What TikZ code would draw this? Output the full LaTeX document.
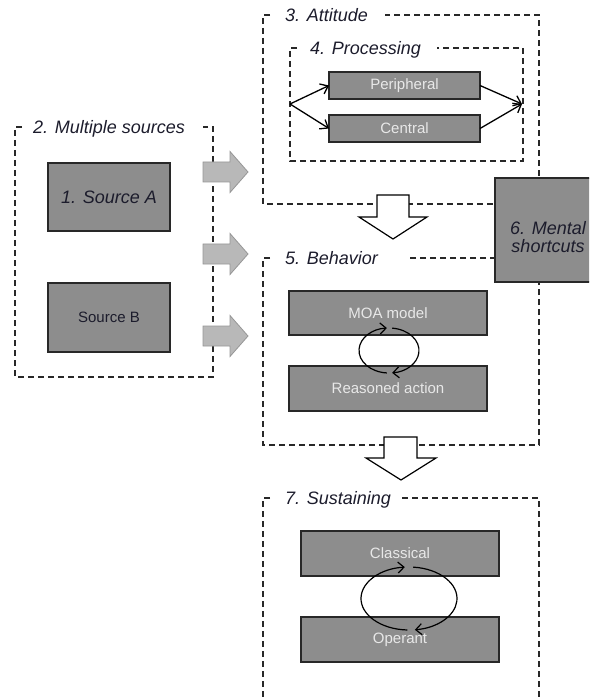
\documentclass[tikz,border=0pt]{standalone}
\usepackage{fontspec}
\setmainfont{Liberation Sans}
\usetikzlibrary{arrows.meta}
\definecolor{boxgray}{RGB}{141,141,141}
\definecolor{linedark}{RGB}{40,40,40}
\definecolor{inktext}{RGB}{28,28,44}
\definecolor{lighttext}{RGB}{232,232,232}
\definecolor{arrowgray}{RGB}{184,184,184}
\definecolor{arrowedge}{RGB}{150,150,150}
\begin{document}
\begin{tikzpicture}[x=1pt,y=-1pt,
  dashbox/.style={draw=linedark, line width=1.3pt, dash pattern=on 6pt off 4pt},
  grect/.style={draw=linedark, line width=1.3pt, fill=boxgray, inner sep=0pt, outer sep=0pt},
  intext/.style={text=lighttext, font=\fontsize{15}{17}\selectfont},
  title/.style={text=inktext, font=\fontsize{18}{20}\selectfont\itshape, inner sep=0pt, anchor=base west},
  flow/.style={draw=black, line width=1.3pt, -{Straight Barb[length=7pt,width=11pt]}},
  cyc/.style={draw=black, line width=1.2pt, -{Straight Barb[length=6pt,width=11pt]}},
  garrow/.style={draw=arrowedge, fill=arrowgray, line width=0.8pt},
  warrow/.style={draw=black, fill=white, line width=1.2pt}]
\useasboundingbox (0,0) rectangle (589,700);
\clip (0,0) rectangle (589,700);

% dashed frames
\draw[dashbox] (22,127) -- (15,127) -- (15,377) -- (213,377) -- (213,127) -- (203,127);
\draw[dashbox] (270,15) -- (263,15) -- (263,204) -- (539,204) -- (539,15) -- (385,15);
\draw[dashbox] (297,48) -- (290,48) -- (290,161) -- (523,161) -- (523,48) -- (437,48);
\draw[dashbox] (270,258) -- (263,258) -- (263,445) -- (539,445) -- (539,258) -- (407,258);
\draw[dashbox] (270,498) -- (263,498) -- (263,710);
\draw[dashbox] (402,498) -- (539,498) -- (539,710);

% titles
\node[title] (t2) at (33,133.5) {2. Multiple sources};
\node[title] (t3) at (285,21.5) {3. Attitude};
\node[title] (t4) at (310,54.5) {4. Processing};
\node[title] (t5) at (285,264.5) {5. Behavior};
\node[title] (t7) at (285,504.5) {7. Sustaining};

% sources
\node[grect, minimum width=122pt, minimum height=68pt, text=inktext, font=\fontsize{18}{20}\selectfont\itshape] (srcA) at (109,197) {1. Source A};
\node[grect, minimum width=122pt, minimum height=69pt, text=inktext, font=\fontsize{15}{17}\selectfont] (srcB) at (109,317.5) {Source B};

% gray block arrows
\foreach \yy in {172,254,336}
  \draw[garrow] (203,\yy-10) -- (230,\yy-10) -- (230,\yy-20.5) -- (248,\yy) -- (230,\yy+20.5) -- (230,\yy+10) -- (203,\yy+10) -- cycle;

% processing
\node[grect, intext, minimum width=151pt, minimum height=27pt] (peri) at (404.5,85.5) {Peripheral};
\node[grect, intext, minimum width=151pt, minimum height=27pt] (cent) at (404.5,128.5) {Central};
\coordinate (pin) at (290,104);
\coordinate (pout) at (522,104);
\draw[flow] (pin) -- (peri.west);
\draw[flow] (pin) -- (cent.west);
\draw[flow] (peri.east) -- (pout);
\draw[flow] (cent.east) -- (pout);

% white block arrows
\draw[warrow] (377,195) -- (409,195) -- (409,217) -- (427,217) -- (393,239) -- (359,217) -- (377,217) -- cycle;
\draw[warrow] (384,437) -- (417,437) -- (417,458) -- (436,458) -- (401,480) -- (366,458) -- (384,458) -- cycle;

% mental shortcuts
\node[grect, minimum width=106pt, minimum height=104pt] (ment) at (548,230) {};
\node[text=inktext, font=\fontsize{18}{18}\selectfont\itshape, align=center, inner sep=0pt] (mtext) at (548,237) {6. Mental\\shortcuts};

% behavior
\node[grect, intext, minimum width=198pt, minimum height=44pt] (moa) at (388,313) {MOA model};
\node[grect, intext, minimum width=198pt, minimum height=45pt] (reas) at (388,388.5) {Reasoned action};
\coordinate (c1) at (389,350.5);
\draw[cyc] ([shift={(84:30pt and 22.5pt)}]c1) arc[start angle=84, end angle=-84, x radius=30pt, y radius=22.5pt];
\draw[cyc] ([shift={(266:30pt and 22.5pt)}]c1) arc[start angle=266, end angle=94, x radius=30pt, y radius=22.5pt];

% sustaining
\node[grect, intext, minimum width=198pt, minimum height=45pt] (clas) at (400,553.5) {Classical};
\node[grect, intext, minimum width=198pt, minimum height=45pt] (oper) at (400,639.5) {Operant};
\coordinate (c2) at (409,598.5);
\draw[cyc] ([shift={(85:48pt and 31.5pt)}]c2) arc[start angle=85, end angle=-83, x radius=48pt, y radius=31.5pt];
\draw[cyc] ([shift={(268:48pt and 31.5pt)}]c2) arc[start angle=268, end angle=95, x radius=48pt, y radius=31.5pt];
\end{tikzpicture}
\end{document}
